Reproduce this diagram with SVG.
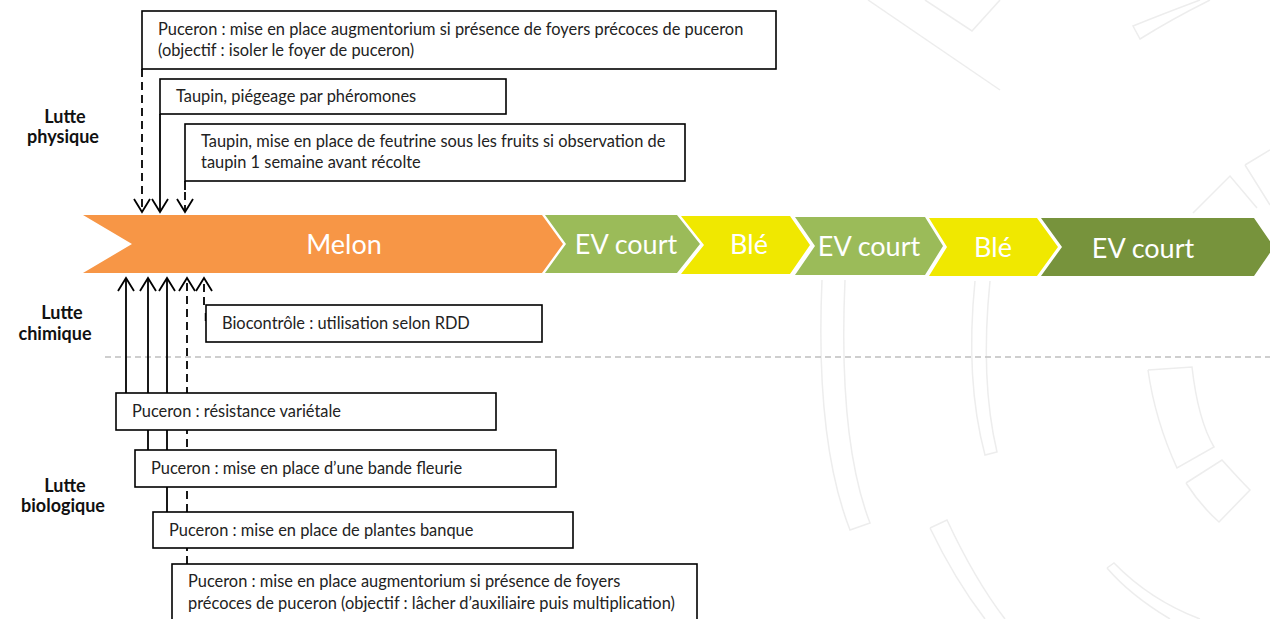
<svg xmlns="http://www.w3.org/2000/svg" width="1270" height="619" viewBox="0 0 1270 619">
<style>
.bg{fill:none;stroke:#ededed;stroke-width:1.5}
.box{fill:#fff;stroke:#000;stroke-width:1.6}
.t{font-family:Lato,"Liberation Sans",sans-serif;font-size:16.4px;fill:#222}
.lab{font-family:Lato,"Liberation Sans",sans-serif;font-size:18px;font-weight:bold;fill:#111;text-anchor:middle}
.ch{font-family:Lato,"Liberation Sans",sans-serif;font-size:27px;fill:#fff;text-anchor:middle}
.c{fill:none;stroke:#000;stroke-width:1.8}
.d{stroke-dasharray:8,5}
</style>
<defs>
<marker id="ah" markerUnits="userSpaceOnUse" markerWidth="20" markerHeight="20" viewBox="-15 -10 20 20" refX="0" refY="0" orient="auto" overflow="visible">
<path d="M-13,-8 L0,0 L-13,8" fill="none" stroke="#000" stroke-width="1.8"/>
</marker>
</defs>
<rect width="1270" height="619" fill="#fff"/>
<g id="background">
<path class="bg" d="M868,0 L1000,90"/>
<path class="bg" d="M925,0 L972,31 L1000,0"/>
<path class="bg" d="M1200,0 Q1160,15 1133,26 L1140,39 Q1170,20 1210,0"/>
<path class="bg" d="M1245,165 L1270,150 M1245,165 L1270,205"/>
<path class="bg" d="M1193,213 L1230,176 L1257,208"/>
<path class="bg" d="M822,280 Q815,440 850,530 L870,523 Q838,440 845,280"/>
<path class="bg" d="M975,281 Q965,380 985,455 L997,452 Q980,380 990,281"/>
<path class="bg" d="M930,528 L947,520 Q975,580 1005,619 M930,528 Q955,580 985,619"/>
<path class="bg" d="M1148,370 L1192,367 Q1198,420 1214,447 L1177,468 Q1155,420 1148,370"/>
<path class="bg" d="M1186,483 L1222,460 Q1240,480 1250,490 L1219,522 Q1200,505 1186,483"/>
<path class="bg" d="M1107,568 L1114,563 Q1150,600 1200,619 M1107,568 Q1130,595 1170,619"/>
</g>
<line x1="105" y1="357" x2="1270" y2="357" stroke="#bfbfbf" stroke-width="1.5" stroke-dasharray="6,4"/>
<g id="labels">
<text class="lab" x="65" y="123">Lutte</text>
<text class="lab" x="63" y="143">physique</text>
<text class="lab" x="62" y="319">Lutte</text>
<text class="lab" x="55" y="340">chimique</text>
<text class="lab" x="65" y="492">Lutte</text>
<text class="lab" x="63" y="512">biologique</text>
</g>
<g id="rotation">
<g id="melon"><path d="M83,215 L542,215 L563,244 L542,273 L83,273 L132,244 Z" fill="#F79646"/><text class="ch" x="344" y="254">Melon</text></g>
<g id="ev1"><path d="M545,215 L677,215 L700,244 L677,273 L545,273 L566,244 Z" fill="#9BBB59"/><text class="ch" x="626" y="254">EV court</text></g>
<g id="ble1"><path d="M681,216 L790,216 L810,245 L790,274 L681,274 L704,245 Z" fill="#F0E800"/><text class="ch" x="749" y="254">Blé</text></g>
<g id="ev2"><path d="M795,217 L925,217 L943,246 L925,275 L795,275 L815,246 Z" fill="#9BBB59"/><text class="ch" x="869" y="256">EV court</text></g>
<g id="ble2"><path d="M929,218 L1037,218 L1058,247 L1037,276 L929,276 L947,247 Z" fill="#F0E800"/><text class="ch" x="993" y="257">Blé</text></g>
<g id="ev3"><path d="M1041,218 L1254,218 L1274,247 L1254,276 L1041,276 L1062,247 Z" fill="#77933C"/><text class="ch" x="1143" y="258">EV court</text></g>
</g>
<g id="connectors">
<path class="c d" d="M142,69 V212" marker-end="url(#ah)"/>
<path class="c" d="M160,114 V212" marker-end="url(#ah)"/>
<path class="c" d="M185,181 V190"/>
<path class="c d" d="M185,192 V212" marker-end="url(#ah)"/>
<path class="c" d="M126,393 V278" marker-end="url(#ah)"/>
<path class="c" d="M148,450 V278" marker-end="url(#ah)"/>
<path class="c" d="M167,512 V278" marker-end="url(#ah)"/>
<path class="c d" d="M187,564 V278" marker-end="url(#ah)"/>
<path class="c d" d="M204,305 V278" marker-end="url(#ah)"/>
<path d="M206,313 V321" stroke="#000" stroke-width="2.5"/>
</g>
<g id="box-augmentorium-top"><rect class="box" x="142" y="11" width="634" height="58"/><text class="t" x="158" y="35">Puceron : mise en place augmentorium si présence de foyers précoces de puceron</text><text class="t" x="158" y="56">(objectif : isoler le foyer de puceron)</text></g>
<g id="box-pheromones"><rect class="box" x="160" y="79" width="346" height="35"/><text class="t" x="176" y="102">Taupin, piégeage  par phéromones</text></g>
<g id="box-feutrine"><rect class="box" x="185" y="124" width="500" height="57"/><text class="t" x="201" y="147">Taupin, mise en place de feutrine sous les fruits si observation de</text><text class="t" x="201" y="168">taupin 1 semaine avant récolte</text></g>
<g id="box-biocontrole"><rect class="box" x="206" y="305" width="336" height="37"/><text class="t" x="222" y="329">Biocontrôle : utilisation selon RDD</text></g>
<g id="box-resistance"><rect class="box" x="116" y="393" width="380" height="37"/><text class="t" x="132" y="417">Puceron : résistance variétale</text></g>
<g id="box-bande"><rect class="box" x="135" y="450" width="421" height="37"/><text class="t" x="151" y="474">Puceron : mise en place d’une bande fleurie</text></g>
<g id="box-plantes"><rect class="box" x="153" y="512" width="420" height="36"/><text class="t" x="169" y="536">Puceron : mise en place de plantes banque</text></g>
<g id="box-augmentorium-bottom"><rect class="box" x="172" y="564" width="525" height="70"/><text class="t" x="188" y="587">Puceron : mise en place augmentorium si présence de foyers</text><text class="t" x="188" y="609">précoces de puceron (objectif : lâcher d’auxiliaire puis multiplication)</text></g>
</svg>
